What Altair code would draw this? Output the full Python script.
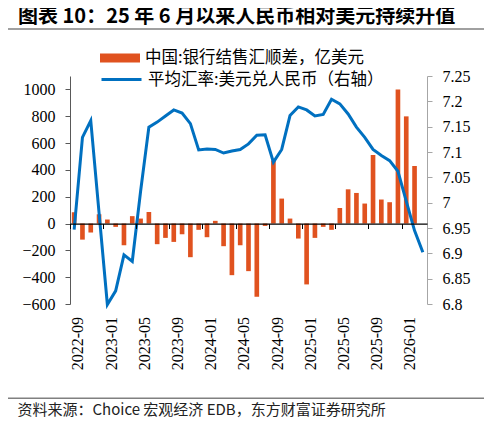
import altair as alt
import pandas as pd

months = [
    "2022-09", "2022-10", "2022-11", "2022-12",
    "2023-01", "2023-02", "2023-03", "2023-04", "2023-05", "2023-06",
    "2023-07", "2023-08", "2023-09", "2023-10", "2023-11", "2023-12",
    "2024-01", "2024-02", "2024-03", "2024-04", "2024-05", "2024-06",
    "2024-07", "2024-08", "2024-09", "2024-10", "2024-11", "2024-12",
    "2025-01", "2025-02", "2025-03", "2025-04", "2025-05", "2025-06",
    "2025-07", "2025-08", "2025-09", "2025-10", "2025-11", "2025-12",
    "2026-01", "2026-02", "2026-03",
]

# 中国:银行结售汇顺差，亿美元 (no value yet for 2026-03)
surplus = [
    85, -120, -67, 69, 30, -25, -162, 55, 37, 86,
    -154, -107, -137, -80, -251, -47, -102, 20, -169, -385,
    -162, -355, -546, -18, 471, 186, 37, -112, -454, -107,
    -25, -47, 116, 255, 228, 149, 511, 179, 159, 1000,
    799, 429, None,
]

# 平均汇率:美元兑人民币
rate = [
    6.947, 7.129, 7.162, 6.980,
    6.799, 6.826, 6.897, 6.884, 7.022, 7.149,
    7.159, 7.171, 7.183, 7.177, 7.156, 7.104,
    7.106, 7.105, 7.098, 7.102, 7.105, 7.116,
    7.133, 7.134, 7.080, 7.105, 7.172, 7.189,
    7.183, 7.171, 7.174, 7.204, 7.195, 7.175,
    7.149, 7.129, 7.105, 7.093, 7.083, 7.062,
    7.003, 6.945, 6.902,
]

x_labels = ["2022-09", "2023-01", "2023-05", "2023-09", "2024-01", "2024-05",
            "2024-09", "2025-01", "2025-05", "2025-09", "2026-01"]
left_ticks = [-600, -400, -200, 0, 200, 400, 600, 800, 1000]
right_ticks = [6.8, 6.85, 6.9, 6.95, 7.0, 7.05, 7.1, 7.15, 7.2, 7.25]

BAR_NAME = "中国:银行结售汇顺差，亿美元"
LINE_NAME = "平均汇率:美元兑人民币（右轴）"
TITLE = "图表 10：25 年 6 月以来人民币相对美元持续升值"
SOURCE = "资料来源：Choice 宏观经济 EDB，东方财富证券研究所"

ORANGE = "#E0521F"
BLUE = "#0070C0"
SERIF = "Liberation Serif"
CJK = "Noto Sans CJK SC"

W, H = 357, 228
LEFT_DOMAIN = [-600, 1100]
ZERO_OFFSET = -H * (0 - LEFT_DOMAIN[0]) / (LEFT_DOMAIN[1] - LEFT_DOMAIN[0])
HALF_BAND = W / len(months) / 2

# separator lines (page decoration), top and bottom edges in pixels from the plot top
SEP_TOP = [-47.8, 321.5]
SEP_BOTTOM = [-46.3, 323.0]

df = pd.DataFrame({"month": months, "surplus": surplus, "rate": rate})
df["bar_name"] = BAR_NAME
df["line_name"] = LINE_NAME

base = alt.Chart(df)

# x axis drawn at the zero line: domain = zero line, ticks at band starts,
# labels pushed down below the plot
x_enc = alt.X(
    "month:O",
    sort=months,
    scale=alt.Scale(paddingInner=0, paddingOuter=0),
    axis=alt.Axis(
        values=x_labels, labelAngle=-90, bandPosition=0, zindex=2,
        offset=ZERO_OFFSET, domain=True, domainColor="#000", domainWidth=1.3,
        ticks=True, tickSize=5, tickColor="#000", tickWidth=1,
        labelOffset=HALF_BAND, labelPadding=88,
        labelFont=SERIF, labelFontSize=16, labelColor="#000",
        title=SOURCE, titleFont=CJK, titleFontSize=15, titleFontWeight="normal",
        titleColor="#222", titleAlign="left", titleBaseline="alphabetic",
        titleX=-53, titleY=190.5,
    ),
)

bars = base.mark_bar(width=alt.RelativeBandSize(0.56)).encode(
    x=x_enc,
    y=alt.Y(
        "surplus:Q",
        scale=alt.Scale(domain=LEFT_DOMAIN, nice=False, zero=False),
        axis=alt.Axis(
            values=left_ticks, orient="left", format="d", grid=False,
            labelOverlap=False, tickSize=5, labelPadding=10,
            domainColor="#595959", tickColor="#595959",
            labelFont=SERIF, labelFontSize=16, labelColor="#000", title=None,
        ),
    ),
    fill=alt.Fill(
        "bar_name:N",
        scale=alt.Scale(domain=[BAR_NAME], range=[ORANGE]),
        legend=alt.Legend(
            title=None, orient="none", legendX=30, legendY=-38,
            symbolType="M-1,-0.22H1V0.22H-1Z", symbolSize=1600,
            symbolStrokeWidth=0, symbolOpacity=1, labelLimit=0,
            labelFont=CJK, labelFontSize=16.5, labelColor="#000", labelOffset=5,
        ),
    ),
)

line = base.mark_line(strokeWidth=3).encode(
    x=alt.X("month:O", sort=months),
    y=alt.Y(
        "rate:Q",
        scale=alt.Scale(domain=[6.8, 7.25], nice=False, zero=False),
        axis=alt.Axis(
            values=right_ticks, orient="right", format="~g", grid=False,
            labelOverlap=False, tickSize=5, labelPadding=10,
            domainColor="#A6A6A6", tickColor="#A6A6A6",
            labelFont=SERIF, labelFontSize=16, labelColor="#000", title=None,
        ),
    ),
    stroke=alt.Stroke(
        "line_name:N",
        scale=alt.Scale(domain=[LINE_NAME], range=[BLUE]),
        legend=alt.Legend(
            title=None, orient="none", legendX=30, legendY=-18,
            symbolType="stroke", symbolSize=1600, symbolStrokeWidth=3,
            labelLimit=0,
            labelFont=CJK, labelFontSize=16.5, labelColor="#000", labelOffset=5,
        ),
    ),
)

seps = alt.Chart(
    pd.DataFrame({"sep_top": SEP_TOP, "sep_bottom": SEP_BOTTOM})
).mark_rect(color="#808080").encode(
    x=alt.value(-65), x2=alt.value(417),
    y=alt.Y(
        "sep_top:Q",
        scale=alt.Scale(domain=[0, H], range=[0, H], nice=False, zero=False),
        axis=None,
    ),
    y2=alt.Y2("sep_bottom"),
)

chart = alt.layer(bars, line, seps).resolve_scale(
    y="independent", fill="independent", stroke="independent"
).properties(
    width=W,
    height=H,
    title=alt.Title(
        TITLE, anchor="start", frame="group", font=CJK, fontSize=20,
        fontWeight="bold", color="#000", dx=-52, offset=1,
    ),
    autosize=alt.AutoSizeParams(type="none"),
    padding={"left": 62, "top": 68, "right": 57, "bottom": 116},
).configure_view(stroke=None).configure_axis(
    labelFont=SERIF, labelFontSize=16, labelColor="#000", labelOverlap=False,
    grid=False,
)

chart.save("out.html", embed_options={"renderer": "svg", "actions": False})
